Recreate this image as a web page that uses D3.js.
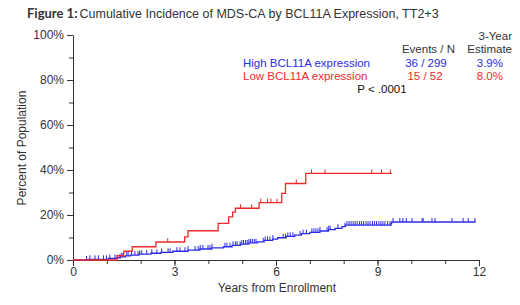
<!DOCTYPE html>
<html lang="en">
<head>
<meta charset="UTF-8">
<title>Cumulative Incidence of MDS-CA</title>
<script src="https://cdn.jsdelivr.net/npm/d3@7"></script>
<style>
  body { margin: 0; background: #fff; }
  text { font-family: "Liberation Sans", Arial, sans-serif; }
</style>
</head>
<body>
<script>

// step curves: [years, percent]
var highSteps = [[0,0],[0.45,0.3],[1.05,0.7],[1.3,1.0],[1.4,1.4],[1.55,1.8],[1.7,2.2],[1.95,2.6],
  [2.3,3.0],[2.6,3.4],[2.95,3.9],[3.4,4.4],[3.75,4.9],[4.1,5.4],[4.45,5.9],[4.7,6.5],[4.95,7.1],
  [5.2,7.6],[5.45,8.1],[5.65,8.7],[5.9,9.3],[6.05,9.9],[6.3,10.5],[6.55,11.1],[6.75,11.7],
  [7.0,12.3],[7.3,12.9],[7.55,13.5],[7.75,14.1],[7.95,14.8],[8.05,15.5],[9.4,16.3],[9.42,16.9]];
var highEnd = 11.9;
var lowSteps = [[0,0],[1.3,1.9],[1.5,3.9],[1.75,5.9],[2.45,8.0],[3.3,10.3],[3.4,13.0],[4.29,16.3],
  [4.6,19.2],[4.72,21.3],[4.8,23.0],[5.5,25.5],[6.17,29.6],[6.28,34.0],[6.88,38.5]];
var lowEnd = 9.42;

// censored times
var highCens = [0.40,0.50,0.65,0.75,0.90,0.99,1.09,1.24,1.39,1.44,1.48,1.59,1.63,1.73,1.83,1.92,1.97,
  2.03,2.18,2.33,2.48,2.62,2.81,2.87,3.07,3.16,3.31,3.40,3.61,3.70,3.76,3.84,3.99,4.05,4.11,4.49,
  4.55,4.64,4.73,4.80,4.85,4.94,4.99,5.04,5.10,5.15,5.20,5.25,5.30,5.36,5.41,5.62,5.68,5.75,5.82,
  5.91,6.21,6.28,6.35,6.42,6.50,6.71,6.80,6.90,7.06,7.12,7.18,7.24,7.30,7.51,7.56,7.60,7.83,8.04,
  8.10,8.16,8.22,8.28,8.34,8.40,8.47,8.53,8.59,8.66,8.72,8.78,8.85,8.91,8.97,9.04,9.10,9.16,9.22,
  9.30,9.37,9.46,9.66,9.75,9.85,10.02,10.32,10.35,10.61,10.70,11.20,11.53,11.68,11.88];
var lowCens = [2.8,4.95,5.28,5.55,5.75,5.85,6.03,6.6,7.05,7.45,8.83,9.12,9.38];

var xTicks = [0,3,6,9,12];
var yTicks = [0,20,40,60,80,100];

var blue = "#2b2bea", red = "#ee2b2b", ink = "#333";

var svg = d3.select("body").append("svg").attr("width", 520).attr("height", 305);

var x = d3.scaleLinear().domain([0,12]).range([73,479]);
var y = d3.scaleLinear().domain([0,100]).range([260,35]);

// title
var title = svg.append("text").attr("x", 27).attr("y", 18).style("font-size", "12.5px").attr("fill", ink);
title.append("tspan").style("font-family", "Lato, sans-serif").style("font-weight", "bold").style("font-size", "13px").text("Figure 1:");
title.append("tspan").attr("dx", 2).text("Cumulative Incidence of MDS-CA by BCL11A Expression, TT2+3");

// y axis
var ya = svg.append("g").attr("transform", "translate(73,0)")
  .call(d3.axisLeft(y).tickValues(yTicks).tickFormat(function(d){ return d + "%"; }).tickSize(6).tickSizeOuter(0));
svg.append("g").attr("transform", "translate(73,0)")
  .call(d3.axisLeft(y).tickValues([10,30,50,70,90]).tickFormat("").tickSize(4).tickSizeOuter(0))
  .select(".domain").remove();

// x axis
var xa = svg.append("g").attr("transform", "translate(0,260)")
  .call(d3.axisBottom(x).tickValues(xTicks).tickSize(6).tickSizeOuter(0));
svg.append("g").attr("transform", "translate(0,260)")
  .call(d3.axisBottom(x).tickValues(d3.range(1,12)).tickFormat("").tickSize(4).tickSizeOuter(0))
  .select(".domain").remove();

svg.selectAll(".tick text").style("font-size", "12px").style("font-family", "'Liberation Sans', Arial, sans-serif").attr("fill", ink);
svg.selectAll(".domain, .tick line").attr("stroke", ink);
ya.selectAll(".tick text").attr("x", -9);
xa.selectAll(".tick text").attr("y", 7);

svg.append("text").attr("transform", "translate(26,148) rotate(-90)").attr("text-anchor", "middle")
  .style("font-size", "12px").attr("fill", ink).text("Percent of Population");
svg.append("text").attr("x", 277).attr("y", 292).attr("text-anchor", "middle")
  .style("font-size", "12px").attr("fill", ink).text("Years from Enrollment");

// curves
var line = d3.line().x(function(d){ return x(d[0]); }).y(function(d){ return y(d[1]); }).curve(d3.curveStepAfter);
var bis = d3.bisector(function(d){ return d[0]; }).right;
function valueAt(steps, t){ return steps[bis(steps, t) - 1][1]; }

function drawCurve(steps, end, cens, color){
  var pts = steps.concat([[end, steps[steps.length-1][1]]]);
  svg.append("path").datum(pts).attr("d", line).attr("fill", "none").attr("stroke", color).attr("stroke-width", 1.3);
  svg.selectAll(null).data(cens).enter().append("line")
    .attr("x1", function(d){ return x(d); }).attr("x2", function(d){ return x(d); })
    .attr("y1", function(d){ return y(valueAt(steps, d)); })
    .attr("y2", function(d){ return y(valueAt(steps, d)) - 4; })
    .attr("stroke", color).attr("stroke-width", 1);
}
drawCurve(highSteps, highEnd, highCens, blue);
drawCurve(lowSteps, lowEnd, lowCens, red);

// legend
var legend = [
  {t:"3-Year", x:512, y:0, a:"end", c:ink},
  {t:"Events / N", x:455, y:1, a:"end", c:ink},
  {t:"Estimate", x:512, y:1, a:"end", c:ink},
  {t:"High BCL11A expression", x:243, y:2, a:"start", c:blue},
  {t:"36 / 299", x:426, y:2, a:"middle", c:blue},
  {t:"3.9%", x:503, y:2, a:"end", c:blue},
  {t:"Low BCL11A expression", x:243, y:3, a:"start", c:red},
  {t:"15 / 52", x:425, y:3, a:"middle", c:red},
  {t:"8.0%", x:503, y:3, a:"end", c:red},
  {t:"P < .0001", x:382, y:4, a:"middle", c:"#111"}
];
svg.selectAll(null).data(legend).enter().append("text")
  .attr("x", function(d){ return d.x; }).attr("y", function(d){ return 40 + d.y * 13.3; })
  .attr("text-anchor", function(d){ return d.a; }).attr("fill", function(d){ return d.c; })
  .style("font-size", "11.5px").text(function(d){ return d.t; });

</script>
</body>
</html>
